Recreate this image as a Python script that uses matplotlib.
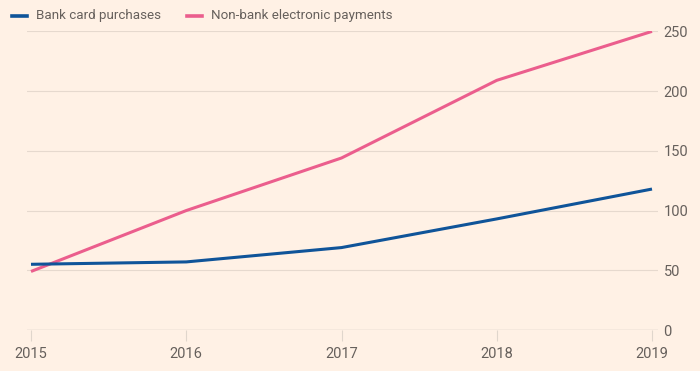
import matplotlib
matplotlib.use("Agg")
import matplotlib.pyplot as plt

years = [2015, 2016, 2017, 2018, 2019]
bank_card = [55, 57, 69, 93, 118]
non_bank = [49, 100, 144, 209, 250]
y_ticks = [0, 50, 100, 150, 200, 250]

bg = "#FFF1E5"
txt = "#66605C"
plt.rcParams['font.family'] = ['Roboto', 'DejaVu Sans']

fig = plt.figure(figsize=(7.0, 3.71), dpi=100, facecolor=bg)
ax = fig.add_axes([27/700, 41/371, 631/700, 299/371 - 0.001], facecolor=bg)
x0 = 2015 - 4/155.25
x1 = 2019 + 6/155.25
ax.set_xlim(x0, x1)
ax.set_ylim(0, 250)

for y in y_ticks[1:]:
    ax.axhline(y, color="#E6D9CE", lw=0.8, zorder=1)
ax.axhline(0, color="#CEC6BE", lw=1.0, zorder=1)

ax.plot(years, non_bank, color="#EB5E8D", lw=2.2, zorder=3, solid_capstyle="butt")
ax.plot(years, bank_card, color="#0F5499", lw=2.2, zorder=4, solid_capstyle="butt")

for s in ax.spines.values():
    s.set_visible(False)
ax.yaxis.tick_right()
ax.set_yticks(y_ticks)
ax.set_yticklabels([str(v) for v in y_ticks])
ax.tick_params(axis='y', length=0, pad=4, labelsize=10.5, labelcolor=txt)
ax.set_xticks(years)
ax.set_xticklabels([str(v) for v in years])
ax.tick_params(axis='x', length=8, width=0.8, color="#E0D6CC", pad=4, labelsize=10.5, labelcolor=txt)

# legend
fig.lines.append(plt.Line2D([12/700, 27/700], [1 - 16/371]*2, color="#0F5499", lw=2.6, transform=fig.transFigure))
fig.text(36/700, 1 - 16/371, "Bank card purchases", color=txt, fontsize=9.6, va="center", ha="left")
fig.lines.append(plt.Line2D([187/700, 202/700], [1 - 16/371]*2, color="#EB5E8D", lw=2.6, transform=fig.transFigure))
fig.text(211/700, 1 - 16/371, "Non-bank electronic payments", color=txt, fontsize=9.6, va="center", ha="left")

fig.savefig("out.png", dpi=100, facecolor=bg)
